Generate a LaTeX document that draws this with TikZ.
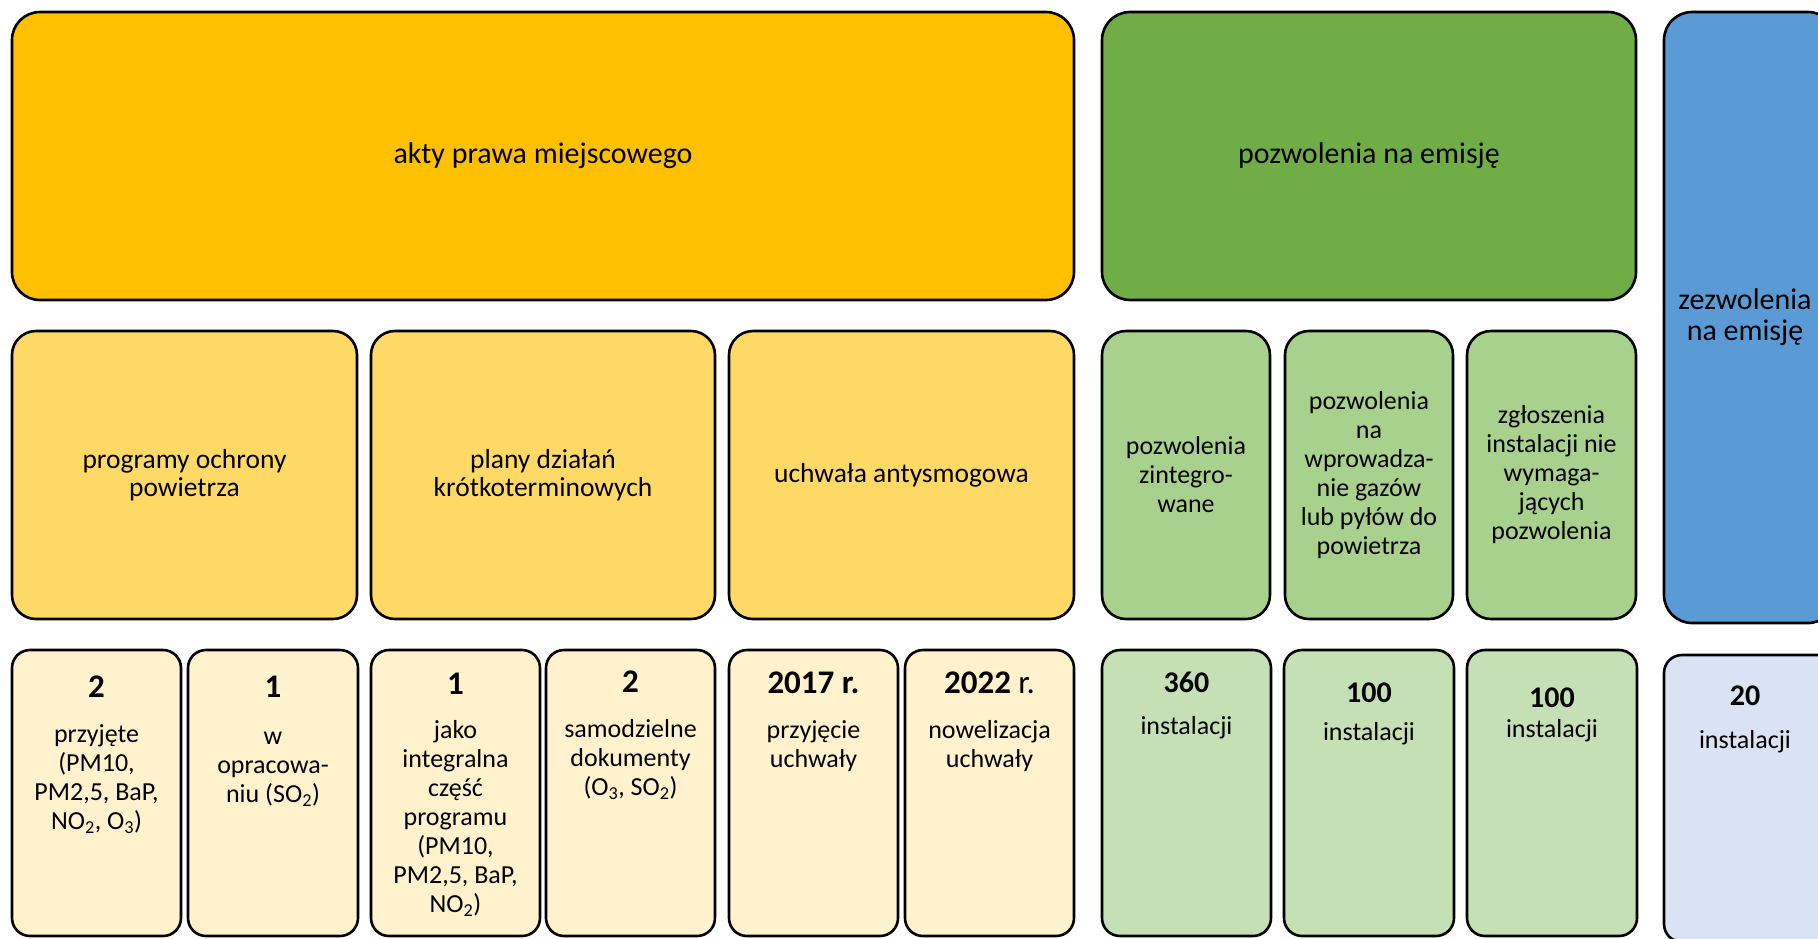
\documentclass[tikz,border=0pt]{standalone}
\usepackage{fontspec}
\setmainfont{Carlito}
\usetikzlibrary{calc}
\definecolor{yA}{HTML}{FFC000}
\definecolor{yB}{HTML}{FFD966}
\definecolor{yC}{HTML}{FFF2CC}
\definecolor{gA}{HTML}{70AD47}
\definecolor{gB}{HTML}{A9D18E}
\definecolor{gC}{HTML}{C5E0B4}
\definecolor{bA}{HTML}{5B9BD5}
\definecolor{bC}{HTML}{DAE3F3}
\tikzset{
  box/.style={draw=black, line width=2.6pt, rectangle, inner sep=0pt, outer sep=0pt, anchor=north west},
  bigbox/.style={box, rounded corners=28pt},
  midbox/.style={box, rounded corners=24pt},
  lowbox/.style={box, rounded corners=18pt},
  txt/.style={font=\fontsize{26}{29}\selectfont, align=center, inner sep=0pt},
  bigtxt/.style={txt, font=\fontsize{30}{31}\selectfont},
  medtxt/.style={txt, font=\fontsize{27.5}{27.5}\selectfont},
  toptxt/.style={txt, anchor=north},
  num/.style={font=\fontsize{30}{30}\selectfont\bfseries, inner sep=0pt, anchor=base},
  ynum/.style={num, font=\fontsize{33}{33}\selectfont\bfseries},
}
\newcommand{\bx}[7]{% style, fill, name, x1, y1, x2, y2
  \node[#1, fill=#2, minimum width=#6-#4, minimum height=#7-#5] (#3) at (#4,#5) {};}
\begin{document}
\begin{tikzpicture}[x=1pt,y=-1pt]
\useasboundingbox (0,0) rectangle (1818,938);
\begin{scope}
\clip (0,0) rectangle (1818,938);
% top row
\bx{bigbox}{yA}{akty}{12}{12}{1074}{300}
\bx{bigbox}{gA}{pozw}{1102}{12}{1636}{300}
\bx{bigbox}{bA}{zezw}{1664}{12}{1836}{623}
% second row
\bx{midbox}{yB}{prog}{12}{331}{357}{619}
\bx{midbox}{yB}{plany}{371}{331}{715}{619}
\bx{midbox}{yB}{uchw}{729}{331}{1074}{619}
\bx{midbox}{gB}{zint}{1102}{331}{1270}{619}
\bx{midbox}{gB}{wpro}{1285}{331}{1453}{619}
\bx{midbox}{gB}{zglo}{1467}{331}{1636}{619}
% third row
\bx{lowbox}{yC}{c1}{12}{650}{181}{936}
\bx{lowbox}{yC}{c2}{188}{650}{358}{936}
\bx{lowbox}{yC}{c3}{371}{650}{540}{936}
\bx{lowbox}{yC}{c4}{546}{650}{715}{936}
\bx{lowbox}{yC}{c5}{729}{650}{898}{936}
\bx{lowbox}{yC}{c6}{905}{650}{1074}{936}
\bx{lowbox}{gC}{c7}{1102}{650}{1271}{936}
\bx{lowbox}{gC}{c8}{1284}{650}{1454}{936}
\bx{lowbox}{gC}{c9}{1467}{650}{1637}{936}
\bx{lowbox}{bC}{c10}{1664}{655}{1836}{942}
\end{scope}
% texts top / middle
\node[bigtxt] (takty) at (akty.center) {akty prawa miejscowego};
\node[bigtxt] (tpozw) at (pozw.center) {pozwolenia na emisję};
\node[bigtxt] (tzezw) at ($(zezw.center)+(-5,0)$) {zezwolenia\\na emisję};
\node[medtxt] (tprog) at (prog.center) {programy ochrony\\powietrza};
\node[medtxt] (tplany) at (plany.center) {plany działań\\krótkoterminowych};
\node[medtxt] (tuchw) at (uchw.center) {uchwała antysmogowa};
\node[txt] (tzint) at (zint.center) {pozwolenia\\zintegro-\\wane};
\node[txt] (twpro) at (wpro.center) {pozwolenia\\na\\wprowadza-\\nie gazów\\lub pyłów do\\powietrza};
\node[txt] (tzglo) at (zglo.center) {zgłoszenia\\instalacji nie\\wymaga-\\jących\\pozwolenia};
% bottom row
\node[ynum] (n1) at ($(c1.north)+(0,47)$) {2};
\node[toptxt] (d1) at ($(c1.north)+(0,72)$) {\strut przyjęte\\(PM10,\\PM2,5, BaP,\\NO\textsubscript{2}, O\textsubscript{3})};
\node[ynum] (n2) at ($(c2.north)+(0,47)$) {1};
\node[toptxt] (d2) at ($(c2.north)+(0,74)$) {\strut w\\opracowa-\\niu (SO\textsubscript{2})};
\node[ynum] (n3) at ($(c3.north)+(0,44)$) {1};
\node[toptxt] (d3) at ($(c3.north)+(0,68)$) {\strut jako\\integralna\\część\\programu\\(PM10,\\PM2,5, BaP,\\NO\textsubscript{2})};
\node[ynum] (n4) at ($(c4.north)+(0,42)$) {2};
\node[toptxt] (d4) at ($(c4.north)+(0,67)$) {\strut samodzielne\\dokumenty\\(O\textsubscript{3}, SO\textsubscript{2})};
\node[ynum] (n5) at ($(c5.north)+(0,43)$) {2017 r.};
\node[toptxt] (d5) at ($(c5.north)+(0,68)$) {\strut przyjęcie\\uchwały};
\node[ynum] (n6) at ($(c6.north)+(0,43)$) {2022 \mdseries r.};
\node[toptxt] (d6) at ($(c6.north)+(0,68)$) {\strut nowelizacja\\uchwały};
\node[num] (n7) at ($(c7.north)+(0,42)$) {360};
\node[toptxt] (d7) at ($(c7.north)+(0,64)$) {\strut instalacji};
\node[num] (n8) at ($(c8.north)+(0,52)$) {100};
\node[toptxt] (d8) at ($(c8.north)+(0,70)$) {\strut instalacji};
\node[num] (n9) at ($(c9.north)+(0,57)$) {100};
\node[toptxt] (d9) at ($(c9.north)+(0,67)$) {\strut instalacji};
\node[num] (n10) at ($(c10.north)+(-5,50)$) {20};
\node[toptxt] (d10) at ($(c10.north)+(-5,73)$) {\strut instalacji};
\end{tikzpicture}
\end{document}
